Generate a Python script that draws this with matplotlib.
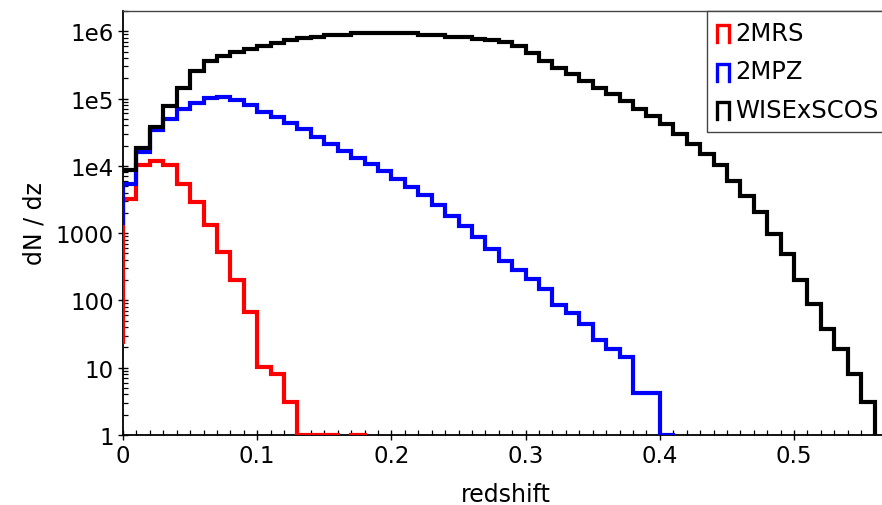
import numpy as np
import matplotlib
matplotlib.use('Agg')
import matplotlib.pyplot as plt
from matplotlib.legend_handler import HandlerBase
from matplotlib.lines import Line2D
from matplotlib.ticker import FixedLocator, FixedFormatter, MultipleLocator, LogLocator, NullFormatter

# ---------------- data ----------------
bin_width = 0.01
series_labels = ['2MRS', '2MPZ', 'WISExSCOS']
series_colors = ['#ff0000', '#0000ff', '#000000']

# value at z=0 before the first bin (left edge of the first step)
mrs_start = 24
mpz_start = 1400
wise_start = 8700

# dN/dz per 0.01 bin, starting at z=0 (0 = empty bin)
mrs = [3240, 10200, 11700, 10200, 5430, 2950, 1330, 525, 200, 68,
       10.2, 8.1, 3.1, 1, 1, 1, 0, 1, 0]

mpz = [5400, 16200, 33900, 50100, 70800, 87100, 102000, 107000, 96600, 79400,
       63100, 53700, 43700, 34700, 26900, 20900, 16600, 13200, 10700, 8500,
       6300, 4900, 3630, 2630, 1820, 1270, 870, 590, 390, 280,
       209, 148, 85, 65, 44, 26, 19, 14.5, 4.2, 4.2,
       1, 0]

wise = [8700, 18600, 38000, 78000, 145000, 257000, 363000, 427000, 490000, 550000,
        603000, 676000, 741000, 794000, 832000, 891000, 891000, 933000, 933000, 933000,
        933000, 933000, 880000, 880000, 832000, 832000, 776000, 741000, 692000, 603000,
        468000, 363000, 288000, 229000, 182000, 145000, 115000, 93000, 71000, 55000,
        42000, 30000, 21400, 15100, 10200, 6000, 3600, 2040, 980, 490,
        200, 89, 38, 19, 8.1, 3.1, 0]

ytick_values = [1, 10, 100, 1000, 1e4, 1e5, 1e6]
ytick_labels = ['1', '10', '100', '1000', '1e4', '1e5', '1e6']
xtick_values = [0, 0.1, 0.2, 0.3, 0.4, 0.5]
xtick_labels = ['0', '0.1', '0.2', '0.3', '0.4', '0.5']

# ---------------- figure ----------------
plt.rcParams['font.family'] = ['DejaVu Sans']
W, H = 882, 506
fig = plt.figure(figsize=(W / 100, H / 100), dpi=100)
left_px, right_px, top_px, bottom_px = 123, 888, 12, 436
ax = fig.add_axes([left_px / W, 1 - bottom_px / H,
                   (right_px - left_px) / W, (bottom_px - top_px) / H])


def step_xy(start, vals):
    vals = np.asarray(vals, dtype=float)
    edges = np.arange(len(vals) + 1) * bin_width
    x = np.concatenate([[edges[0]], edges])
    y = np.concatenate([[start], vals, [vals[-1]]])
    return x, y


handles = []
for start, vals, lab, col in zip([mrs_start, mpz_start, wise_start],
                                 [mrs, mpz, wise], series_labels, series_colors):
    x, y = step_xy(start, vals)
    h, = ax.step(x, y, where='post', color=col, lw=3.0, label=lab,
                 solid_joinstyle='miter', zorder=3)
    handles.append(h)

ax.set_yscale('log', nonpositive='clip')
ax.set_xlim(0, 0.57)
ax.set_ylim(1, 2.0e6)

ax.yaxis.set_major_locator(FixedLocator(ytick_values))
ax.yaxis.set_major_formatter(FixedFormatter(ytick_labels))
ax.yaxis.set_minor_locator(LogLocator(base=10, subs=np.arange(2, 10)))
ax.yaxis.set_minor_formatter(NullFormatter())
ax.xaxis.set_major_locator(FixedLocator(xtick_values))
ax.xaxis.set_major_formatter(FixedFormatter(xtick_labels))
ax.xaxis.set_minor_locator(MultipleLocator(0.01))

ax.tick_params(which='major', direction='inout', length=7, width=1.0,
               labelsize=16.5, color='black', pad=3)
ax.tick_params(which='minor', direction='in', length=3.5, width=0.9, color='black')
ax.tick_params(top=False, right=False, which='both')

for side in ['left', 'bottom']:
    ax.spines[side].set_linewidth(1.3)
    ax.spines[side].set_color('black')
ax.spines['top'].set_linewidth(1.0)
ax.spines['top'].set_color('#444444')
ax.spines['right'].set_visible(False)

ax.set_xlabel('redshift', fontsize=17, labelpad=11)
ax.set_ylabel('dN / dz', fontsize=17, labelpad=7)


class PiHandler(HandlerBase):
    def create_artists(self, legend, orig_handle, xdescent, ydescent,
                       width, height, fontsize, trans):
        x0 = -xdescent
        x1 = x0 + width
        y0 = -ydescent - 0.15 * height
        y1 = y0 + 1.0 * height
        ln = Line2D([x0, x0, x1, x1], [y0, y1, y1, y0],
                    color=orig_handle.get_color(), lw=2.4,
                    solid_joinstyle='miter', transform=trans)
        return [ln]


leg = ax.legend(handles=handles, loc='upper right', borderaxespad=0,
                fontsize=17.5, handlelength=0.5, handleheight=0.7,
                handletextpad=0.25, labelspacing=0.6, borderpad=0.4,
                fancybox=False, framealpha=1, edgecolor='#444444',
                handler_map={Line2D: PiHandler()})
leg.get_frame().set_linewidth(1.0)

fig.savefig('out.png', dpi=100)
